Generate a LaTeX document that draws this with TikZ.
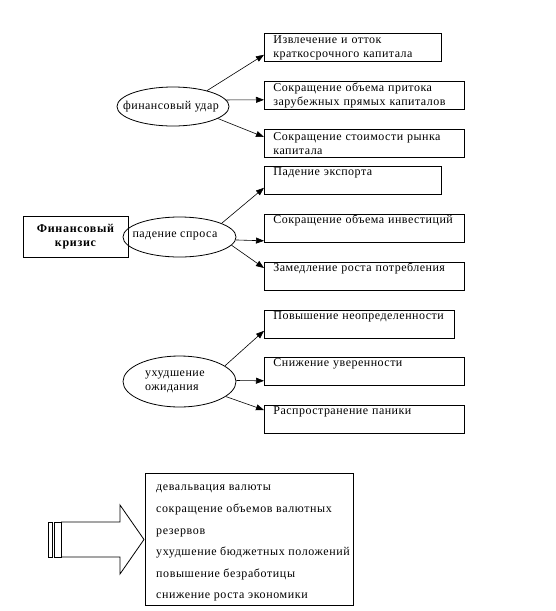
\documentclass[tikz,border=0pt]{standalone}
\usepackage{fontspec}
\setmainfont{Liberation Serif}[LetterSpace=4]
\usetikzlibrary{arrows.meta,shapes.geometric}
\newcommand\bl[1]{\mbox{#1}}
\begin{document}
\begin{tikzpicture}[x=1pt,y=-1pt,
  every node/.style={font=\fontsize{12}{14}\selectfont},
  box/.style={draw, line width=0.8pt, rectangle, anchor=north west, minimum height=28pt,
    inner xsep=9pt, inner ysep=0pt, align=left},
  ell/.style={draw, line width=0.8pt, ellipse, inner sep=0pt},
  arr/.style={line width=0.6pt, -{Triangle[length=8pt,width=6pt]}},
  plain/.style={draw, line width=0.8pt}]
\useasboundingbox (0,0) rectangle (555,611);

% right-hand boxes
\node[box, minimum width=177pt, text width=159pt] (b1) at (264,33) {\bl{Извлечение и отток}\\\bl{краткосрочного капитала}};
\node[box, minimum width=200pt, text width=182pt] (b2) at (264,81) {\bl{Сокращение объема притока}\\\bl{зарубежных прямых капиталов}};
\node[box, minimum width=200pt, text width=182pt] (b3) at (264,129) {\bl{Сокращение стоимости рынка}\\\bl{капитала}};
\node[box, minimum width=177pt, text width=159pt] (b4) at (264,166) {\bl{Падение экспорта}\\\strut};
\node[box, minimum width=200pt, text width=182pt] (b5) at (264,214) {\bl{Сокращение объема инвестиций}\\\strut};
\node[box, minimum width=200pt, text width=182pt] (b6) at (264,262) {\bl{Замедление роста потребления}\\\strut};
\node[box, minimum width=190pt, text width=172pt] (b7) at (264,310) {\bl{Повышение неопределенности}\\\strut};
\node[box, minimum width=200pt, text width=182pt] (b8) at (264,357) {\bl{Снижение уверенности}\\\strut};
\node[box, minimum width=200pt, text width=182pt] (b9) at (264,405) {\bl{Распространение паники}\\\strut};

% ellipses
\node[ell, minimum width=112pt, minimum height=39pt] (e1) at (173,106.5) {};
\node (e1t) at (171,106.5) {финансовый удар};
\node[ell, minimum width=113pt, minimum height=40pt] (e2) at (179.5,237) {};
\node (e2t) at (175,235.5) {падение спроса};
\node[ell, minimum width=113pt, minimum height=51pt] (e3) at (179.5,381.5) {};
\node[align=left, anchor=west, inner sep=0pt] (e3t) at (145,381.5) {ухудшение\\ожидания};

% crisis box
\node[plain, minimum width=105pt, minimum height=41pt, align=center, font=\bfseries\fontsize{12}{14}\selectfont\addfontfeature{LetterSpace=6}] (crisis) at (75.5,236.5) {Финансовый\\кризис};

% arrows
\draw[arr] (e1.25) -- ([yshift=7pt]b1.south west);
\draw[arr] (e1.7) -- ([yshift=10pt]b2.south west);
\draw[arr] (e1.-15) -- ([yshift=-8pt]b3.north west);
\draw[arr] (e2.18) -- ([yshift=7pt]b4.south west);
\draw[arr] (e2.-3) -- ([yshift=2pt]b5.south west);
\draw[arr] (e2.-9) -- ([yshift=-6pt]b6.north west);
\draw[arr] (e3.19) -- ([yshift=8pt]b7.south west);
\draw[arr] (e3.1) -- ([yshift=5pt]b8.south west);
\draw[arr] (e3.-18) -- ([yshift=-5pt]b9.north west);

% bottom striped block arrow
\draw[line width=0.8pt] (48,522) rectangle (52,557);
\draw[line width=0.8pt] (54,522) rectangle (61,557);
\draw[line width=0.8pt] (61,522) -- (120,522) -- (120,505) -- (144,539.5) -- (120,574) -- (120,557) -- (61,557);

% result box
\node[plain, anchor=north west, minimum width=208pt, minimum height=132pt] (res) at (145,473) {};
\node[anchor=west, align=left, inner sep=0pt, font=\fontsize{12}{21.6}\selectfont\addfontfeature{LetterSpace=5}] (restext) at ([xshift=11pt,yshift=-4pt]res.west)
  {девальвация валюты\\сокращение объемов валютных\\резервов\\ухудшение бюджетных положений\\повышение безработицы\\снижение роста экономики};
\end{tikzpicture}
\end{document}
